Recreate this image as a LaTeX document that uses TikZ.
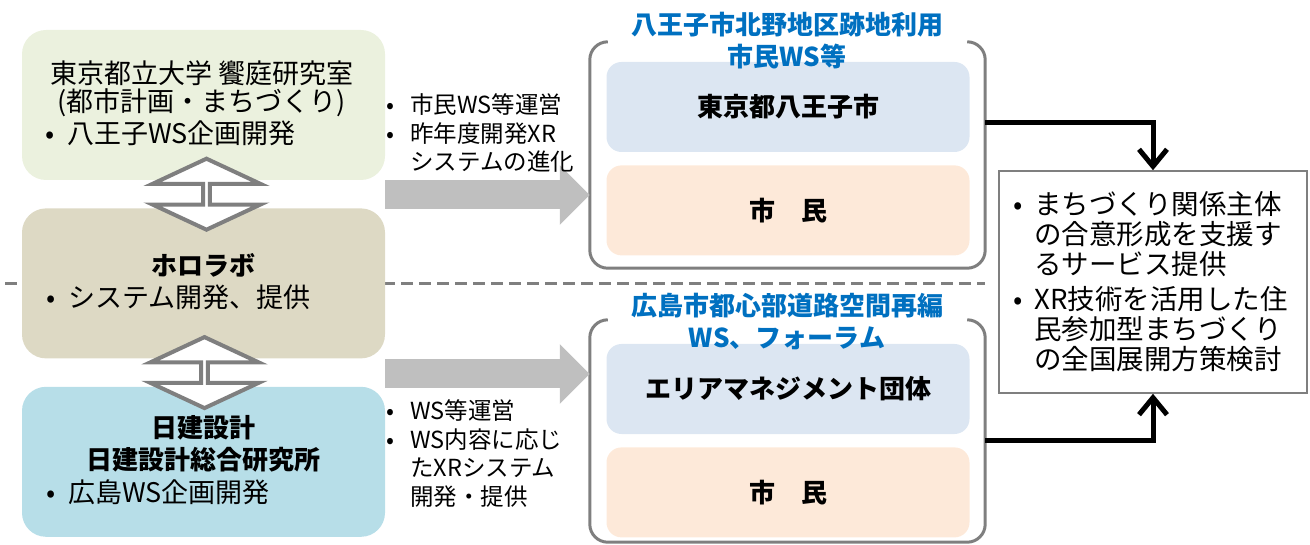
\documentclass[tikz,border=0pt]{standalone}
\usepackage{fontspec}
\setmainfont{Noto Sans CJK JP}
\usepackage{tikz}
\usetikzlibrary{shapes.arrows, arrows.meta, positioning, calc}
\definecolor{tmugreen}{HTML}{EBF1DE}
\definecolor{holotan}{HTML}{DDD9C4}
\definecolor{nikkenblue}{HTML}{B7DEE8}
\definecolor{cityblue}{HTML}{DCE6F2}
\definecolor{citizen}{HTML}{FDE9D9}
\definecolor{titleblue}{HTML}{0070C0}
\definecolor{linegray}{HTML}{7F7F7F}
\definecolor{flowgray}{HTML}{BFBFBF}
\newcommand{\bul}[1][20pt]{\makebox[0pt]{•}\hspace*{#1}}
\newcommand{\ind}{\hspace*{20pt}}
\newcommand{\orgfont}{\fontsize{27}{30}\selectfont}
\newcommand{\taskfont}{\fontsize{23.5}{28.5}\selectfont}
\tikzstyle{org} = [rectangle, rounded corners=24pt, minimum width=363pt, minimum height=150pt]
\tikzstyle{member} = [rectangle, rounded corners=15pt, minimum width=363pt, minimum height=90pt, font=\fontsize{26}{30}\selectfont\bfseries]
\tikzstyle{wsframe} = [rectangle, minimum width=395pt]
\tikzstyle{framepath} = [line width=3pt, draw=linegray, rounded corners=18pt]
\tikzstyle{wstitle} = [font=\fontsize{26}{32}\selectfont\bfseries, text=titleblue, align=center]
\tikzstyle{task} = [font=\taskfont, align=left, inner sep=0pt, anchor=west]
\tikzstyle{flow} = [line width=29pt, flowgray, -{Triangle[length=30pt,width=58pt]}]
\tikzstyle{link} = [line width=5pt, -{Straight Barb[length=17pt,width=28pt]}]
\tikzstyle{mutual} = [double arrow, rotate=90, draw=linegray, fill=white, line width=4pt, minimum height=71pt, minimum width=108pt, double arrow head extend=29.5pt, double arrow tip angle=130, inner sep=0pt]

\begin{document}
\begin{tikzpicture}[x=1pt, y=-1pt]
    \useasboundingbox (0,0) rectangle (1310,545);

    \draw [linegray, line width=3pt, dash pattern=on 12pt off 6pt] (5,284)--(985,284);

    % organisations
    \node (tmu) [org, fill=tmugreen] at (203.5,105) {};
    \node (holo) [org, fill=holotan, below=28pt of tmu] {};
    \node (nikken) [org, fill=nikkenblue, below=28pt of holo] {};

    \node (tmuname) [font=\fontsize{27}{28}\selectfont, align=center] at (202,89) {東京都立大学 饗庭研究室\\(都市計画・まちづくり)};
    \node (tmutask) [task, font=\orgfont] at (50,133) {\bul[17pt]八王子WS企画開発};
    \node (holoname) [font=\fontsize{26}{30}\selectfont\bfseries] at (203,265) {ホロラボ};
    \node (holotask) [task, font=\orgfont] at (51,297) {\bul[17pt]システム開発、提供};
    \node (nikkenname) [font=\fontsize{26}{32}\selectfont\bfseries, align=center] at (203,444) {日建設計\\日建設計総合研究所};
    \node (nikkentask) [task, font=\orgfont] at (51,492) {\bul[17pt]広島WS企画開発};

    \node (mut1) [mutual, yshift=-3pt] at ($(tmu.south)!0.5!(holo.north)$) {};
    \node (mut2) [mutual, yshift=-1pt] at ($(holo.south)!0.5!(nikken.north)$) {};

    % workshops
    \node (hkframe) [wsframe, minimum height=226pt] at (787.5,155) {};
    \draw [framepath] ([xshift=18pt]hkframe.north west)--(hkframe.north west)--(hkframe.south west)--(hkframe.south east)--(hkframe.north east)--([xshift=-18pt]hkframe.north east);
    \node (hkcity) [member, fill=cityblue] at (788,107) {東京都八王子市};
    \node (hkcitizen) [member, fill=citizen, below=13pt of hkcity] {市　民};
    \node (hktitle) [wstitle] at (787,41) {八王子市北野地区跡地利用\\市民WS等};

    \node (hsframe) [wsframe, minimum height=222pt] at (787.5,431) {};
    \draw [framepath] ([xshift=18pt]hsframe.north west)--(hsframe.north west)--(hsframe.south west)--(hsframe.south east)--(hsframe.north east)--([xshift=-18pt]hsframe.north east);
    \node (hsarea) [member, fill=cityblue] at (788,389) {エリアマネジメント団体};
    \node (hscitizen) [member, fill=citizen, below=13pt of hsarea] {市　民};
    \node (hstitle) [wstitle] at (787,321.5) {広島市都心部道路空間再編\\WS、フォーラム};

    \coordinate (hkin) at ([yshift=-40pt]hkframe.west);
    \coordinate (hsin) at ([yshift=57pt]hsframe.west);
    \draw [flow] (hkin -| tmu.east)--(hkin);
    \draw [flow] (hsin -| holo.east)--(hsin);

    \node (hktask) [task] at (390,133) {\bul 市民WS等運営\\\bul 昨年度開発XR\\\ind システムの進化};
    \node (hstask) [task] at (390,453.5) {\bul WS等運営\\\bul WS内容に応じ\\\ind たXRシステム\\\ind 開発・提供};

    % outcome
    \node (result) [draw=linegray, line width=1.5pt, fill=white, minimum width=308pt, minimum height=222pt, align=left, font=\fontsize{27.5}{30}\selectfont] at (1153,282) {\bul[16pt]まちづくり関係主体\\\hspace*{16pt}の合意形成を支援す\\\hspace*{16pt}るサービス提供\\[5pt]\bul[16pt]XR技術を活用した住\\\hspace*{16pt}民参加型まちづくり\\\hspace*{16pt}の全国展開方策検討};

    \draw [link] ([yshift=32pt]hkframe.east) -| (result.north);
    \draw [link] ([yshift=-9pt]hsframe.east) -| (result.south);

\end{tikzpicture}
\end{document}
